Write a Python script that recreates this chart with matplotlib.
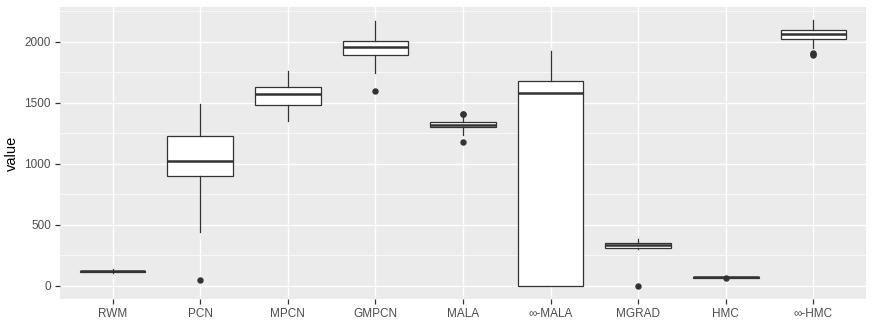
import matplotlib
matplotlib.use("Agg")
import matplotlib.pyplot as plt

plt.rcParams['font.family'] = ['Liberation Sans', 'DejaVu Sans']

# categories and box statistics
methods = ['RWM', 'PCN', 'MPCN', 'GMPCN', 'MALA', '\u221e-MALA', 'MGRAD', 'HMC', '\u221e-HMC']
whislo = [105, 444, 1353, 1746, 1238, 0, 300, 62, 1950]
q1 = [112, 900, 1479, 1896, 1298, 0, 308, 65, 2027]
med = [118, 1023, 1574, 1958, 1317, 1582, 330, 68, 2065]
q3 = [122, 1225, 1626, 2010, 1339, 1683, 349, 70, 2100]
whishi = [137, 1489, 1759, 2168, 1385, 1923, 385, 73, 2177]
fliers = [[], [47], [], [1601], [1176, 1405, 1412], [], [0], [60], [1895, 1904, 1910]]

stats = []
for i, name in enumerate(methods):
    stats.append({'label': name, 'whislo': whislo[i], 'q1': q1[i], 'med': med[i],
                  'q3': q3[i], 'whishi': whishi[i], 'fliers': fliers[i]})

fig = plt.figure(figsize=(8.74, 3.26), dpi=100)
ax = fig.add_axes([60 / 874, 27 / 326, 806 / 874, 292 / 326])
ax.set_facecolor('#EBEBEB')

pos = list(range(1, len(methods) + 1))
ax.bxp(stats, positions=pos, widths=0.75, showcaps=False, patch_artist=True,
       boxprops=dict(facecolor='white', edgecolor='#333333', linewidth=0.9),
       whiskerprops=dict(color='#333333', linewidth=0.9),
       medianprops=dict(color='#333333', linewidth=1.8, solid_capstyle='butt'),
       flierprops=dict(marker='o', markerfacecolor='#333333', markeredgecolor='#333333',
                       markersize=3.6))

ax.set_xlim(0.4, len(methods) + 0.6)
ax.set_ylim(-109, 2286)
ax.set_yticks([0, 500, 1000, 1500, 2000])
ax.set_yticks([250, 750, 1250, 1750, 2250], minor=True)
ax.set_xticks(pos)
ax.set_xticklabels(methods)

ax.set_axisbelow(True)
ax.grid(True, which='major', color='white', linewidth=1.0)
ax.grid(True, which='minor', axis='y', color='white', linewidth=0.5)
for s in ax.spines.values():
    s.set_visible(False)
ax.tick_params(which='major', colors='#333333', length=3.5, width=0.9,
               labelcolor='#4D4D4D', labelsize=8.5, pad=3)
ax.tick_params(which='minor', length=0)
ax.set_ylabel('value', fontsize=10.5, color='black', labelpad=4)

fig.savefig('out.png', dpi=100)
